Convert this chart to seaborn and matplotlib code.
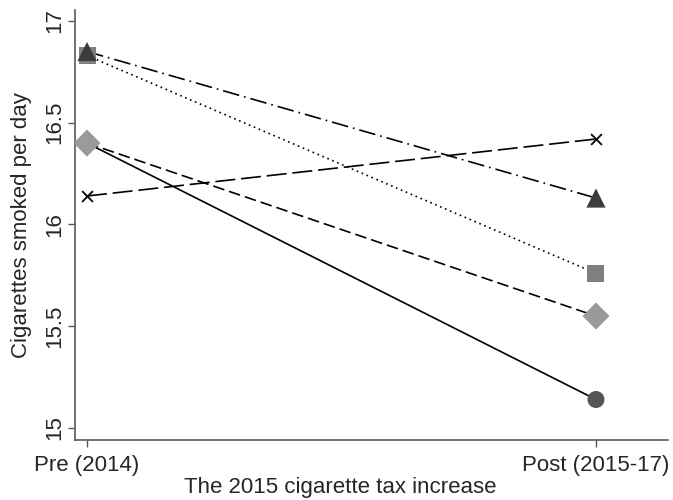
import pandas as pd
import numpy as np
import matplotlib
matplotlib.use("Agg")
import matplotlib.pyplot as plt
import seaborn as sns

# values
periods = ["Pre (2014)", "Post (2015-17)"]
groups = ["g1", "g2", "g3", "g4", "g5"]
pre_vals = [16.40, 16.40, 16.83, 16.85, 16.14]
post_vals = [15.14, 15.55, 15.76, 16.13, 16.42]

marker_map = {"g1": "o", "g2": "D", "g3": "s", "g4": "^", "g5": "x"}
marker_col = {"g1": "#555555", "g2": "#9a9a9a", "g3": "#7f7f7f", "g4": "#3c3c3c", "g5": "#000000"}
marker_size = {"g1": 150, "g2": 190, "g3": 150, "g4": 190, "g5": 60}
dash_map = {"g1": "", "g2": (7, 3), "g3": (1, 2.2), "g4": (10, 3, 1, 3), "g5": (12, 3.5)}

rows = []
for g, a, b in zip(groups, pre_vals, post_vals):
    rows.append({"group": g, "period": 0, "value": a})
    rows.append({"group": g, "period": 1, "value": b})
df = pd.DataFrame(rows)

sns.set_style("ticks")
plt.rcParams["font.family"] = ["Liberation Sans", "DejaVu Sans"]

fig = plt.figure(figsize=(6.73, 5), dpi=100)
ax = fig.add_axes([75 / 673, 60 / 500, 593 / 673, 430 / 500])

sns.lineplot(data=df, x="period", y="value", hue="group", style="group",
             palette={g: "black" for g in groups}, dashes=dash_map,
             linewidth=1.2, legend=False, ax=ax)

for g in groups:
    sub = df[df.group == g]
    if marker_map[g] == "x":
        sns.scatterplot(data=sub, x="period", y="value", marker="x", color="black",
                        s=marker_size[g], linewidth=1.3, legend=False, ax=ax, zorder=5)
    else:
        sns.scatterplot(data=sub, x="period", y="value", marker=marker_map[g],
                        color=marker_col[g], s=marker_size[g], edgecolor="none",
                        legend=False, ax=ax, zorder=5)

ax.set_xlim(-0.0236, 1.1415)
ax.set_ylim(14.941, 17.054)
ax.set_xticks([0, 1])
ax.set_xticklabels(periods)
ax.set_yticks([15, 15.5, 16, 16.5, 17])
ax.set_yticklabels(["15", "15.5", "16", "16.5", "17"], rotation=90, va="center")

ax.set_xlabel("The 2015 cigarette tax increase", fontsize=16)
ax.set_ylabel("Cigarettes smoked per day", fontsize=16)
ax.xaxis.set_label_coords(0.447, -0.085)
ax.yaxis.set_label_coords(-0.073, 0.5)

ax.tick_params(axis="both", labelsize=16, length=5, width=1, color="#555555")
ax.tick_params(axis="y", pad=2)
ax.tick_params(axis="x", pad=6)

sns.despine(ax=ax)
for s in ["left", "bottom"]:
    ax.spines[s].set_color("#5a5a5a")
    ax.spines[s].set_linewidth(1.2)

fig.savefig("out.png", dpi=100)
